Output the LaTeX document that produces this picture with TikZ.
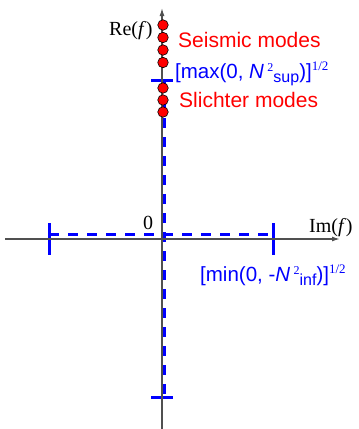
\documentclass[tikz,border=0pt]{standalone}
\usepackage{fontspec}
\setmainfont{Liberation Serif}
\setsansfont{Liberation Sans}
\usetikzlibrary{arrows.meta}
\definecolor{axisgray}{RGB}{80,80,80}
\tikzset{
  axis/.style={draw=axisgray, line width=1.3pt},
  bluedash/.style={draw=blue, line width=3pt, dash pattern=on 10pt off 9pt},
  bluetick/.style={draw=blue, line width=3pt},
  mode/.style={circle, fill=red, draw=black, line width=0.6pt, minimum size=10.5pt, inner sep=0pt},
  redlab/.style={text=red, font=\sffamily\fontsize{21}{24}\selectfont, anchor=base west, inner sep=0pt},
  bluelab/.style={text=blue, font=\sffamily\fontsize{20.5}{24}\selectfont, anchor=base west, inner sep=0pt},
  axlab/.style={font=\fontsize{20}{22}\selectfont, anchor=base west, inner sep=0pt}
}
\newcommand{\supsc}[1]{\raisebox{7pt}{\rmfamily\fontsize{12}{12}\selectfont #1}}
\newcommand{\halfsc}[1]{\raisebox{8pt}{\rmfamily\fontsize{13}{14}\selectfont #1}}
\newcommand{\subsc}[1]{\raisebox{-4pt}{\fontsize{16}{16}\selectfont #1}}
\begin{document}
\begin{tikzpicture}[x=1pt, y=-1pt]
\useasboundingbox (0,0) rectangle (359,429);
% named coordinates
\coordinate (vtop) at (162,8);
\coordinate (vbot) at (162,429);
\coordinate (hleft) at (5,239);
\coordinate (hright) at (340,239);
\coordinate (dtop) at (164,80);
\coordinate (dbot) at (164,397);
\coordinate (dleft) at (49,234);
\coordinate (dright) at (273,234);
% blue dashed ranges
\draw[bluedash] (dtop) -- (dbot);
\draw[bluedash] (dleft) -- (dright);
% ticks
\draw[bluetick] (151,80) -- (173,80);
\draw[bluetick] (151,397) -- (173,397);
\draw[bluetick] (49,223) -- (49,255);
\draw[bluetick] (273,223) -- (273,255);
% axes
\draw[axis, -{Latex[length=8pt,width=5pt]}] (vbot) -- (vtop);
\draw[axis, -{Latex[length=8pt,width=5pt]}] (hleft) -- (hright);
% modes
\foreach \y [count=\i] in {25,37.5,50,62.5} \node[mode] (s\i) at (163,\y) {};
\foreach \y [count=\i] in {88,100,112} \node[mode] (l\i) at (163,\y) {};
% labels
\node[axlab] (re) at (109,35) {Re(\textit{f})};
\node[axlab] (im) at (309,232) {Im(\textit{f})};
\node[axlab] (zero) at (143,229) {0};
\node[redlab] (seis) at (178,47) {Seismic modes};
\node[redlab] (slich) at (179,107) {Slichter modes};
\node[bluelab] (maxl) at (175,78) {[max(0, \textit{N}\,\supsc{2}\subsc{sup})]\halfsc{1/2}};
\node[bluelab] (minl) at (200,281) {[min(0, -\textit{N}\,\supsc{2}\subsc{inf})]\halfsc{1/2}};
\end{tikzpicture}
\end{document}
